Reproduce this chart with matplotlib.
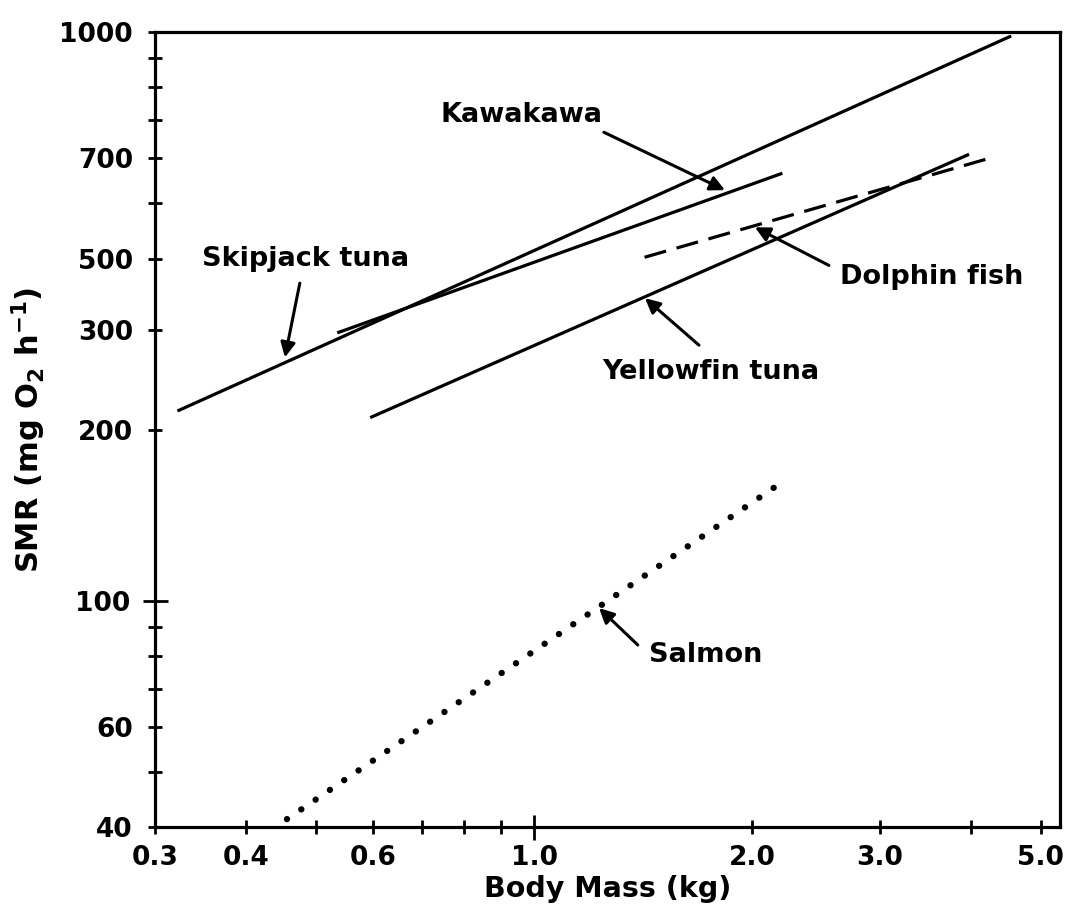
import numpy as np
import matplotlib
matplotlib.use("Agg")
import matplotlib.pyplot as plt
from matplotlib.ticker import FixedLocator, FixedFormatter

# line end points (body mass kg, SMR mg O2 / h)
skipjack_x = [0.322, 4.55]
skipjack_y = [215.7, 985]
kawakawa_x = [0.535, 2.20]
kawakawa_y = [296, 565]
yellowfin_x = [0.594, 3.98]
yellowfin_y = [210, 610]
dolphin_x = [1.42, 4.24]
dolphin_y = [402, 600]
salmon_x = [0.456, 2.14]
salmon_y = [41.3, 158]

# tick positions and labels (labels copied as printed)
xtick_pos = [0.3, 0.4, 0.5, 0.6, 0.7, 0.8, 0.9, 2.0, 3.0, 4.0, 5.0]
xtick_lab = ["0.3", "0.4", "", "0.6", "", "", "", "2.0", "3.0", "", "5.0"]
ytick_pos = [40, 50, 60, 70, 80, 90, 200, 300, 400, 500, 600, 700, 800, 900, 1000]
ytick_lab = ["40", "", "60", "", "", "", "200", "300", "500", "", "700", "", "", "", "1000"]

plt.rc('font', family='DejaVu Sans', weight='bold')

fig = plt.figure(figsize=(10.7, 9.22), dpi=100)
ax = fig.add_axes([0.145, 0.103, 0.846, 0.862])
ax.set_xscale('log')
ax.set_yscale('log')
ax.set_xlim(0.3, 5.32)
ax.set_ylim(40, 1000)

lw = 2.3
ax.plot(skipjack_x, skipjack_y, color='black', lw=lw, solid_capstyle='butt')
ax.plot(kawakawa_x, kawakawa_y, color='black', lw=lw, solid_capstyle='butt')
ax.plot(yellowfin_x, yellowfin_y, color='black', lw=lw, solid_capstyle='butt')
ax.plot(dolphin_x, dolphin_y, color='black', lw=lw, linestyle=(0, (7.0, 3.4)))
ax.plot(salmon_x, salmon_y, color='black', lw=4.6, linestyle=(0, (0.01, 2.7)),
        dash_capstyle='round')

# spines / ticks
for s in ax.spines.values():
    s.set_linewidth(2.3)

ax.xaxis.set_major_locator(FixedLocator(xtick_pos))
ax.xaxis.set_major_formatter(FixedFormatter(xtick_lab))
ax.xaxis.set_minor_locator(FixedLocator([1.0]))
ax.xaxis.set_minor_formatter(FixedFormatter(["1.0"]))
ax.yaxis.set_major_locator(FixedLocator(ytick_pos))
ax.yaxis.set_major_formatter(FixedFormatter(ytick_lab))
ax.yaxis.set_minor_locator(FixedLocator([100]))
ax.yaxis.set_minor_formatter(FixedFormatter(["100"]))

ax.tick_params(which='major', direction='inout', length=10, width=2.0,
               labelsize=19, top=False, right=False)
ax.tick_params(which='minor', direction='inout', length=18, width=2.0,
               labelsize=19, top=False, right=False)
ax.tick_params(axis='x', which='major', pad=8)
ax.tick_params(axis='x', which='minor', pad=4)
ax.tick_params(axis='y', which='major', pad=11)
ax.tick_params(axis='y', which='minor', pad=9)

ax.set_xlabel('Body Mass (kg)', fontsize=20.5, fontweight='bold', labelpad=3)
ax.set_ylabel(r'SMR (mg O$_\mathbf{2}$ h$^{\mathbf{-1}}$)', fontsize=22,
              fontweight='bold', labelpad=8)

# annotations
arrow = dict(arrowstyle='-|>', color='black', lw=2.2, mutation_scale=22,
             shrinkA=0, shrinkB=0)
txt = dict(fontsize=19.5, fontweight='bold', va='center', ha='left')

ax.annotate('', xy=(0.453, 268), xytext=(0.475, 362), arrowprops=arrow)
ax.text(0.348, 400, 'Skipjack tuna', **txt)

ax.annotate('', xy=(1.833, 527.6), xytext=(1.248, 667), arrowprops=arrow)
ax.text(0.742, 714, 'Kawakawa', **txt)

ax.annotate('', xy=(2.016, 454), xytext=(2.55, 389), arrowprops=arrow)
ax.text(2.64, 371, 'Dolphin fish', **txt)

ax.annotate('', xy=(1.422, 340.6), xytext=(1.688, 281.6), arrowprops=arrow)
ax.text(1.24, 252.5, 'Yellowfin tuna', **txt)

ax.annotate('', xy=(1.229, 97.1), xytext=(1.39, 83.6), arrowprops=arrow)
ax.text(1.44, 80.2, 'Salmon', **txt)

fig.savefig('out.png', dpi=100)
